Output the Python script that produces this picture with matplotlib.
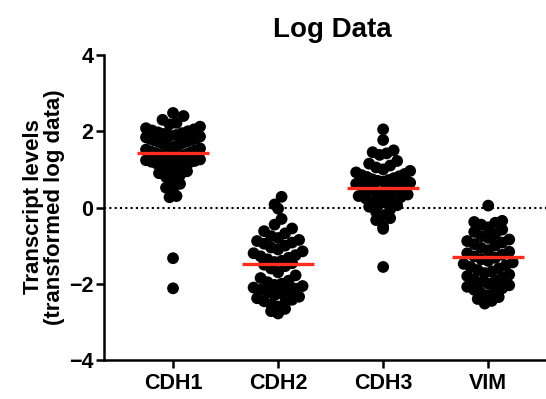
import matplotlib
matplotlib.use('Agg')
import matplotlib.pyplot as plt
import numpy as np

plt.rcParams['font.family'] = ['Liberation Sans', 'DejaVu Sans']
plt.rcParams['font.weight'] = 'bold'

genes = ['CDH1', 'CDH2', 'CDH3', 'VIM']

cdh1 = [2.48, 2.40, 2.30, 2.22, 2.18, 2.12, 2.08, 2.05, 2.02, 2.00, 1.97, 1.95,
        1.93, 1.90, 1.88, 1.86, 1.84, 1.82, 1.80, 1.78, 1.76, 1.74, 1.72, 1.70,
        1.67, 1.65, 1.62, 1.60, 1.58, 1.55, 1.52, 1.50, 1.47, 1.45, 1.43, 1.40,
        1.38, 1.36, 1.34, 1.32, 1.30, 1.28, 1.26, 1.24, 1.22, 1.20, 1.18, 1.15,
        1.12, 1.10, 1.07, 1.04, 1.00, 0.95, 0.90, 0.85, 0.80, 0.72, 0.62, 0.52,
        0.45, 0.30, 0.27, -1.33, -2.12]
cdh2 = [0.28, 0.08, -0.03, -0.30, -0.45, -0.55, -0.62, -0.68, -0.75, -0.80,
        -0.85, -0.88, -0.92, -0.95, -1.00, -1.05, -1.10, -1.15, -1.20, -1.25,
        -1.28, -1.32, -1.36, -1.40, -1.43, -1.46, -1.50, -1.54, -1.60, -1.70,
        -1.78, -1.85, -1.92, -1.96, -2.00, -2.03, -2.06, -2.10, -2.13, -2.16,
        -2.20, -2.23, -2.26, -2.30, -2.34, -2.38, -2.42, -2.46, -2.50, -2.55,
        -2.60, -2.66, -2.72, -2.78]
cdh3 = [2.05, 1.77, 1.50, 1.45, 1.42, 1.38, 1.22, 1.15, 1.10, 1.05, 1.00, 0.96,
        0.92, 0.88, 0.85, 0.82, 0.80, 0.77, 0.74, 0.72, 0.70, 0.68, 0.65, 0.62,
        0.60, 0.58, 0.55, 0.52, 0.50, 0.48, 0.45, 0.42, 0.40, 0.37, 0.34, 0.30,
        0.27, 0.24, 0.20, 0.17, 0.13, 0.10, 0.06, 0.02, -0.05, -0.12, -0.20,
        -0.28, -0.33, -0.50, -0.56, -1.56]
vim = [0.05, -0.35, -0.38, -0.40, -0.45, -0.52, -0.58, -0.64, -0.70, -0.75,
       -0.80, -0.84, -0.88, -0.92, -0.96, -1.00, -1.06, -1.12, -1.16, -1.20,
       -1.24, -1.28, -1.32, -1.36, -1.40, -1.44, -1.48, -1.52, -1.56, -1.60,
       -1.64, -1.68, -1.72, -1.76, -1.80, -1.84, -1.88, -1.92, -1.96, -2.00,
       -2.04, -2.08, -2.12, -2.16, -2.20, -2.25, -2.30, -2.35, -2.40, -2.45,
       -2.52]
centre_lines = [1.44, -1.47, 0.50, -1.31]  # red lines

groups = [cdh1, cdh2, cdh3, vim]


def scatter_offsets(vals, bin_h=0.3, base=0.07, step=7.0, half_max=27.0):
    # Prism-like column scatter: bin the values, spread each bin sideways,
    # lowest value in the middle so each row makes a "V"
    vals = np.asarray(vals)
    bins = np.floor((vals - base) / bin_h).astype(int)
    off = np.zeros(len(vals))
    for b in np.unique(bins):
        idx = np.where(bins == b)[0]
        idx = idx[np.argsort(vals[idx])]
        n = len(idx)
        if n == 1:
            continue
        sp = min(step, 2 * half_max / (n - 1))
        slots = np.arange(n) - (n - 1) / 2
        slots = slots[np.argsort(np.abs(slots), kind='stable')]
        off[idx] = slots * sp
    return off


fig = plt.figure(figsize=(5.46, 3.99), dpi=100)
ax = fig.add_axes([104 / 546, 39 / 399, 442 / 546, 305 / 399])
ax.set_xlim(-0.657, 3.55)
ax.set_ylim(-4, 4)
px_per_x = 442 / (3.55 + 0.657)

ax.axhline(0, color='black', lw=1.5, ls=(0, (1, 1.55)), zorder=1)

for i, vals in enumerate(groups):
    off = scatter_offsets(vals) / px_per_x
    ax.scatter(i + off, vals, s=72, color='black', edgecolors='none', zorder=2)
    ax.plot([i - 0.34, i + 0.34], [centre_lines[i], centre_lines[i]],
            color='#ff2d1e', lw=2.4, zorder=3, solid_capstyle='butt')

for side in ['top', 'right']:
    ax.spines[side].set_visible(False)
for side in ['left', 'bottom']:
    ax.spines[side].set_linewidth(1.8)

ax.set_xticks(range(len(genes)))
ax.set_xticklabels(genes)
ax.set_yticks([-4, -2, 0, 2, 4])
ax.tick_params(axis='both', direction='out', length=5.5, width=1.8, labelsize=15.5)
ax.tick_params(axis='x', pad=4)
ax.tick_params(axis='y', pad=2)

fig.text(44 / 546, 1 - 207 / 399, 'Transcript levels\n(transformed log data)',
         rotation=90, ha='center', va='center', fontsize=16, fontweight='bold',
         linespacing=0.95)
fig.text(332 / 546, 1 - 30 / 399, 'Log Data', ha='center', va='center',
         fontsize=20, fontweight='bold')

fig.savefig('out.png', dpi=100)
